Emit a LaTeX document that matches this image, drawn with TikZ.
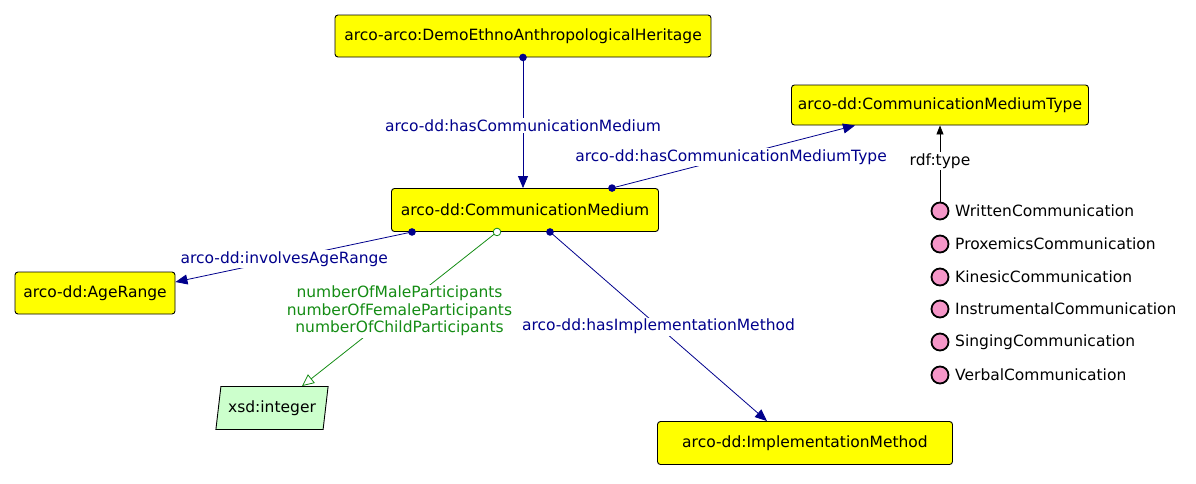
\documentclass[tikz,border=0pt]{standalone}
\usepackage{fontspec}
\setmainfont{DejaVu Sans}
\usetikzlibrary{arrows.meta,shapes.geometric}
\definecolor{nv}{RGB}{0,0,140}
\definecolor{gr}{RGB}{20,140,20}
\definecolor{xsdfill}{RGB}{204,255,204}
\definecolor{pinkind}{RGB}{245,150,200}
\definecolor{yel}{RGB}{255,255,0}
\tikzset{
  cls/.style={draw=black, line width=0.9pt, fill=yel, rounded corners=3pt, minimum height=42pt, inner sep=0pt},
  dt/.style={draw=black, line width=0.9pt, fill=xsdfill, trapezium, trapezium left angle=74, trapezium right angle=106, trapezium stretches=true, minimum width=113pt, minimum height=43pt, inner sep=0pt},
  ind/.style={circle, draw=black, line width=1.8pt, fill=pinkind, minimum size=17pt, inner sep=0pt},
  indtxt/.style={anchor=west, inner sep=0pt},
  objp/.style={draw=nv, line width=0.8pt, -{Triangle[length=12pt,width=10pt]}},
  datp/.style={draw=gr, line width=0.8pt, -{Triangle[open,length=12pt,width=11pt]}},
  lbl/.style={fill=white, text=nv, inner sep=1.5pt},
  glbl/.style={fill=white, text=gr, inner sep=1.5pt, align=center},
  dotn/.style={fill=nv},
}
\begin{document}
\begin{tikzpicture}[x=1pt,y=-1pt, font=\fontsize{15.5}{17.5}\selectfont]
\useasboundingbox (0,0) rectangle (1196,483);
\node[cls, minimum width=376pt] (top) at (523,36) {arco-arco:DemoEthnoAnthropologicalHeritage};
\node[cls, minimum width=297pt, minimum height=40pt] (cmt) at (940,105) {arco-dd:CommunicationMediumType};
\node[cls, minimum width=267pt, minimum height=43pt] (cm) at (525,210) {arco-dd:CommunicationMedium};
\node[cls, minimum width=160pt] (ar) at (95,293) {arco-dd:AgeRange};
\node[dt] (xsd) at (272,408) {xsd:integer};
\node[cls, minimum width=295pt, minimum height=43pt] (im) at (805,443) {arco-dd:ImplementationMethod};

\foreach \n/\y/\t in {1/211/WrittenCommunication,2/244/ProxemicsCommunication,3/277/KinesicCommunication,4/309/InstrumentalCommunication,5/342/SingingCommunication,6/375/VerbalCommunication}{
  \node[ind] (i\n) at (940,\y) {};
  \node[indtxt] (t\n) at (955,\y) {\t};
}

% top -> cm
\draw[objp] (top.south) -- (top.south |- cm.north) node[lbl, pos=0.52] {arco-dd:hasCommunicationMedium};
\fill[dotn] (top.south) circle (3.8pt);
% cm -> cmt
\draw[objp] ([xshift=87pt]cm.north) -- ([xshift=-85pt]cmt.south) node[lbl, pos=0.49] {arco-dd:hasCommunicationMediumType};
\fill[dotn] ([xshift=87pt]cm.north) circle (3.8pt);
% rdf:type
\draw[line width=0.8pt, -{Triangle[length=9pt,width=7pt]}, black] (i1.north) -- (i1.north |- cmt.south) node[fill=white, inner sep=1.5pt, pos=0.53] (rdft) {rdf:type};
% cm -> ar
\draw[objp] ([xshift=-113pt]cm.south) -- ([yshift=11pt]ar.east) node[lbl, pos=0.54] {arco-dd:involvesAgeRange};
\fill[dotn] ([xshift=-113pt]cm.south) circle (3.8pt);
% cm -> xsd
\draw[datp] ([xshift=-28pt]cm.south) -- ([xshift=30pt]xsd.north) node[glbl, pos=0.5, yshift=-2pt] {numberOfMaleParticipants\\numberOfFemaleParticipants\\numberOfChildParticipants};
\draw[gr, line width=0.8pt, fill=white] ([xshift=-28pt]cm.south) circle (3.8pt);
% cm -> im
\draw[objp] ([xshift=25pt]cm.south) -- ([xshift=-38pt]im.north) node[lbl, pos=0.5] {arco-dd:hasImplementationMethod};
\fill[dotn] ([xshift=25pt]cm.south) circle (3.8pt);
\end{tikzpicture}
\end{document}
